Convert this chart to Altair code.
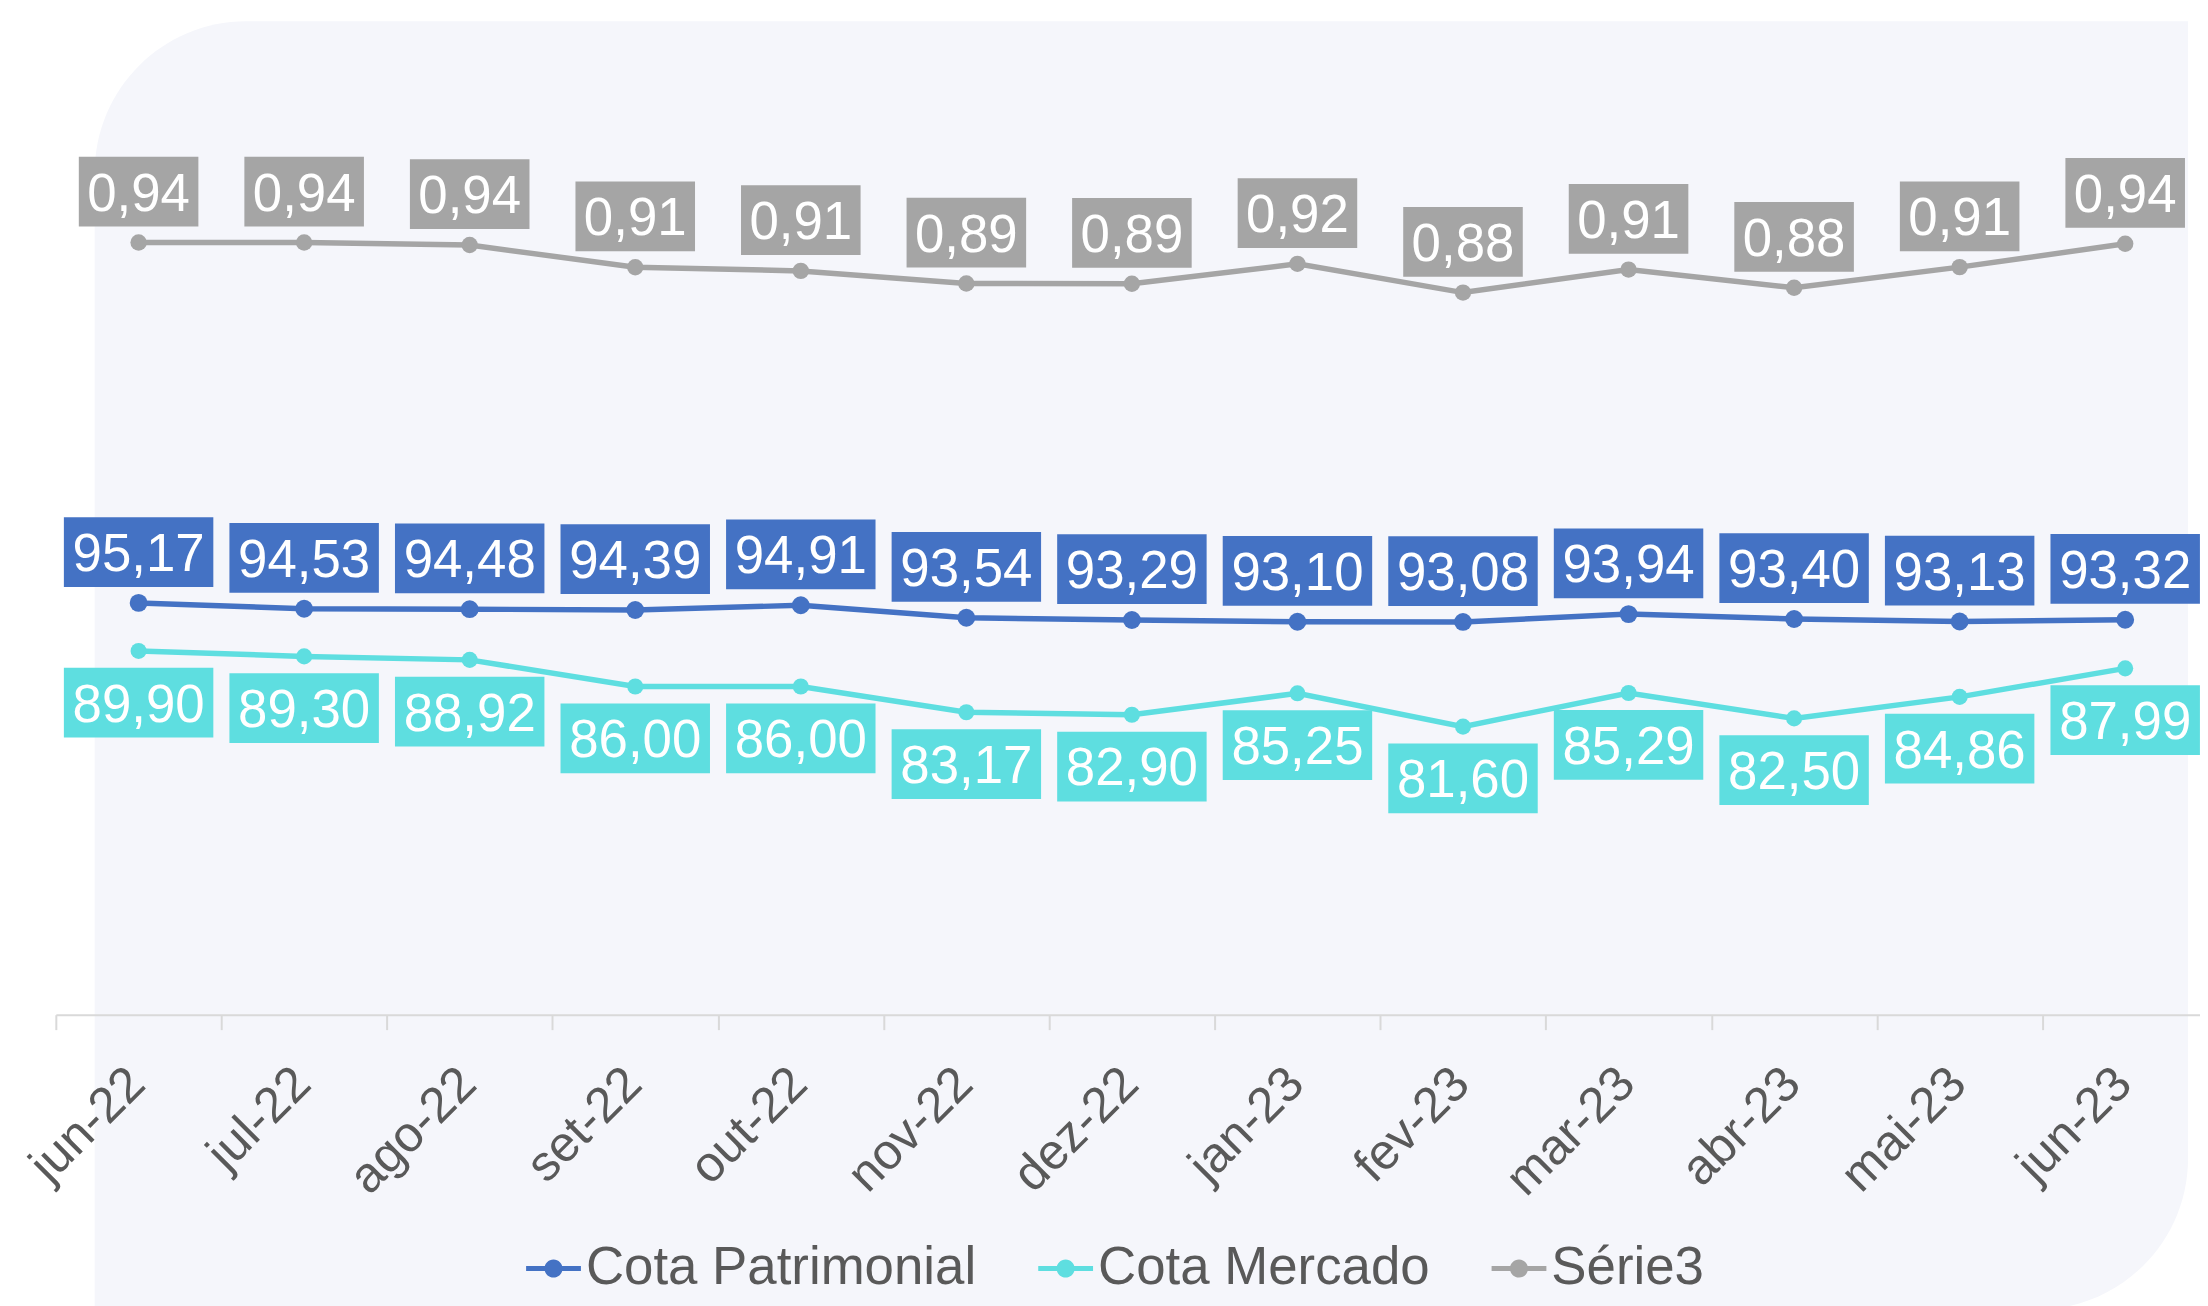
import altair as alt
import pandas as pd

months = ["jun-22", "jul-22", "ago-22", "set-22", "out-22", "nov-22", "dez-22",
          "jan-23", "fev-23", "mar-23", "abr-23", "mai-23", "jun-23"]
cota_patrimonial = [95.17, 94.53, 94.48, 94.39, 94.91, 93.54, 93.29, 93.10, 93.08, 93.94, 93.40, 93.13, 93.32]
cota_mercado = [89.90, 89.30, 88.92, 86.00, 86.00, 83.17, 82.90, 85.25, 81.60, 85.29, 82.50, 84.86, 87.99]
serie3 = [0.9446, 0.9447, 0.9412, 0.9111, 0.9061, 0.8891, 0.8886, 0.9157, 0.8767, 0.9079, 0.8833, 0.9112, 0.9429]

series_names = ["Cota Patrimonial", "Cota Mercado", "Série3"]
series_colors = ["#4472C4", "#5EDEE0", "#A5A5A5"]

rows = []
for name, vals in zip(series_names, [cota_patrimonial, cota_mercado, serie3]):
    for m, v in zip(months, vals):
        rows.append({"mes": m, "serie": name, "valor": v})
df = pd.DataFrame(rows)

FONT = "Liberation Sans, Arial, sans-serif"

x_enc = alt.X(
    "mes:O", sort=months, title=None,
    scale=alt.Scale(type="band", paddingInner=0, paddingOuter=0, range=[0, 2160]),
    axis=alt.Axis(labelAngle=-45, labelAlign="right", labelBaseline="middle",
                  labelFont=FONT, labelFontSize=50, labelColor="#595959",
                  labelPadding=46, labelOffset=-2,
                  domainColor="#D9D9D9", domainWidth=2,
                  tickColor="#D9D9D9", tickWidth=2, tickSize=15, tickBand="extent",
                  grid=False, labelOverlap=False, labelBound=False, zindex=1),
)

LEG_PATH = ("M-1,-0.09H1V0.09H-1Z"
            "M-0.33,0A0.33,0.33,0,1,1,0.33,0A0.33,0.33,0,1,1,-0.33,0Z")
color_enc = alt.Color(
    "serie:N",
    scale=alt.Scale(domain=series_names, range=series_colors),
    legend=alt.Legend(
        orient="none", legendX=472, legendY=1142, direction="horizontal", title=None,
        labelFont=FONT, labelFontSize=53, labelColor="#595959", labelLimit=1000,
        labelOffset=5, columnPadding=62, symbolType=LEG_PATH, symbolSize=3025,
        symbolStrokeWidth=0, symbolOpacity=1, padding=0,
    ),
)

BOX5 = "M-1,-0.4667H1V0.4667H-1Z"
BOX4 = "M-1,-0.5833H1V0.5833H-1Z"

specs = [
    # name, color, domain, label box offset, box path, box size, point size
    ("Cota Patrimonial", series_colors[0], [50, 150], -51, BOX5, 22500, 320),
    ("Cota Mercado", series_colors[1], [50, 150], 52, BOX5, 22500, 260),
    ("Série3", series_colors[2], [-0.1027, 1.1338], -51, BOX4, 14400, 270),
]

bg = alt.Chart(alt.Data(values=[{}])).mark_rect(
    color="#F5F6FB", cornerRadiusTopLeft=152, cornerRadiusBottomRight=152
).encode(x=alt.value(39), x2=alt.value(2140), y=alt.value(-82), y2=alt.value(1211))

layers = [bg]
for name, col, dom, off, path, bsize, psize in specs:
    base = alt.Chart(df).transform_filter(alt.datum.serie == name).transform_calculate(
        label="replace(format(datum.valor, '.2f'), '.', ',')"
    )
    y_enc = alt.Y("valor:Q", scale=alt.Scale(domain=dom, zero=False, nice=False), axis=None)
    line = base.mark_line(strokeWidth=5.5, color=col).encode(x=x_enc, y=y_enc)
    pts = base.mark_point(filled=True, size=psize, opacity=1).encode(
        x=x_enc, y=y_enc, color=color_enc)
    box = base.mark_point(shape=path, size=bsize, filled=True, opacity=1, color=col,
                          yOffset=off).encode(x=x_enc, y=y_enc)
    txt = base.mark_text(font=FONT, fontSize=53, color="white", align="center",
                         baseline="alphabetic", dy=off + 19).encode(
        x=x_enc, y=y_enc, text="label:N")
    layers += [line, pts, box, txt]

chart = alt.layer(*layers).resolve_scale(y="independent").properties(
    width=2152, height=915,
    autosize=alt.AutoSizeParams(type="none"),
    padding={"left": 48, "top": 93, "right": 0, "bottom": 290},
    background="white",
).configure_view(stroke=None)

chart.save("out.html", embed_options={"renderer": "svg", "actions": False})
